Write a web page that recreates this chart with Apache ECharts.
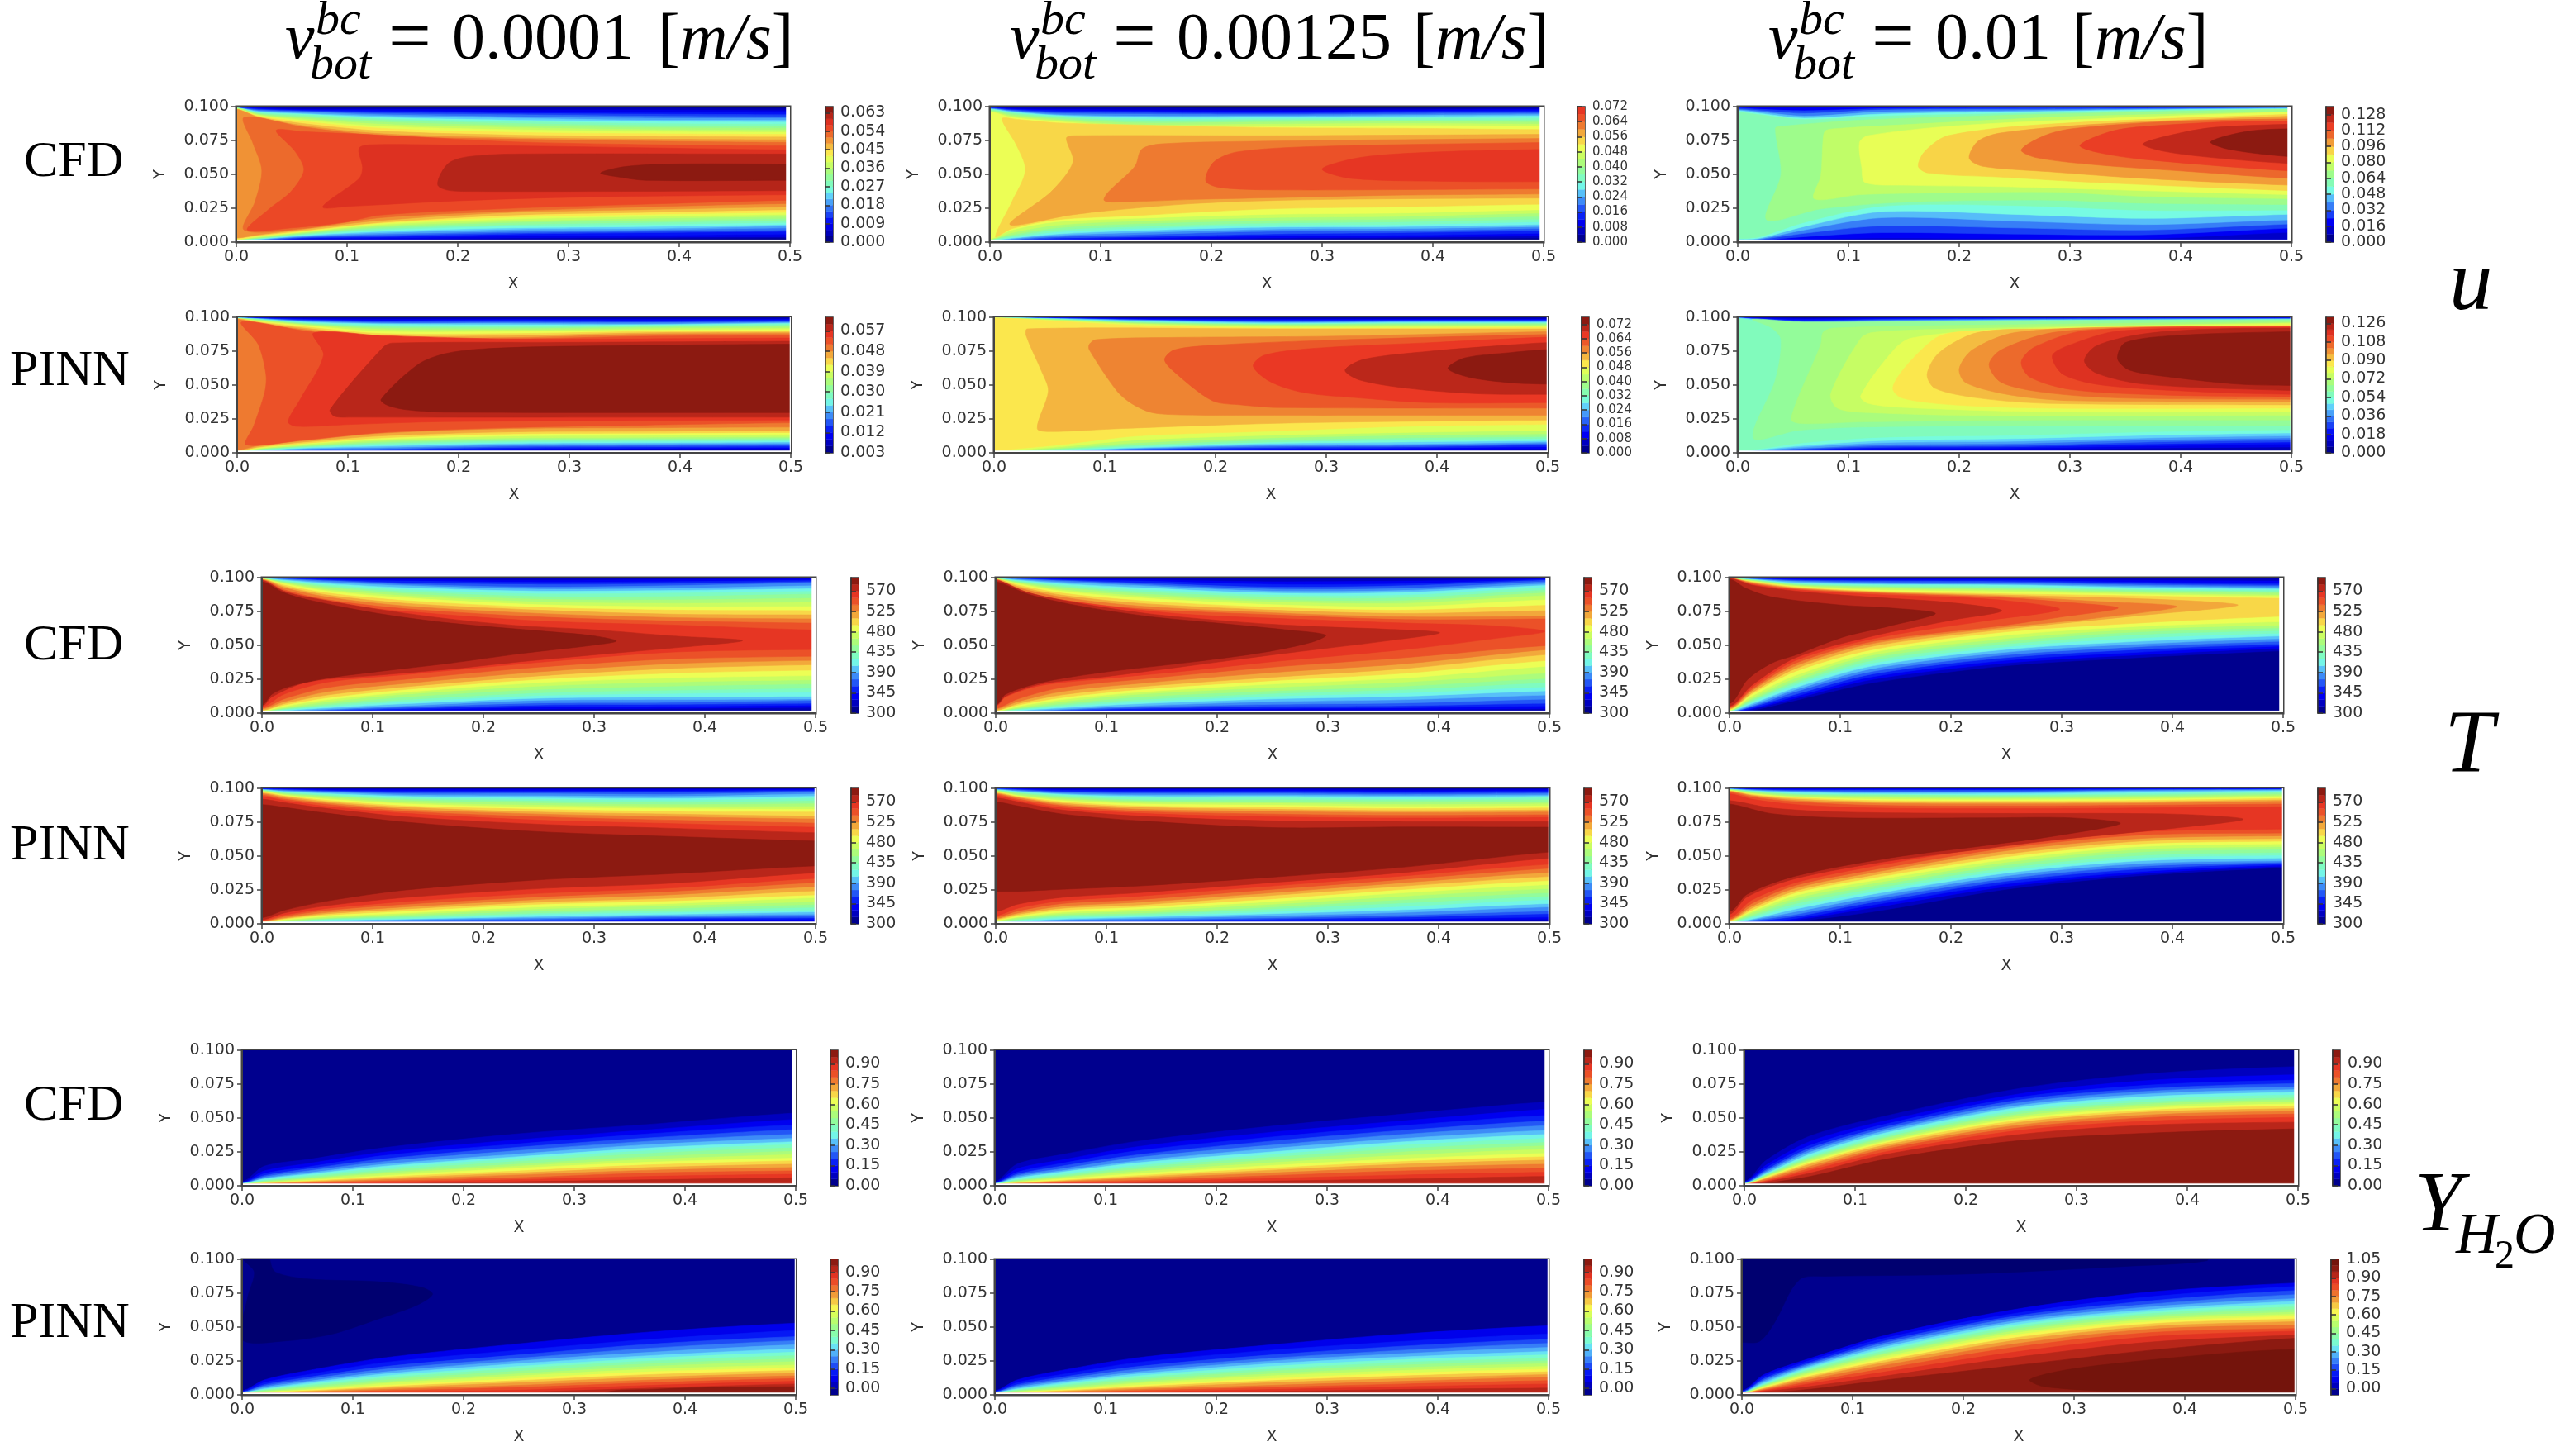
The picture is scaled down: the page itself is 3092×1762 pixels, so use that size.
<!DOCTYPE html>
<html><head><meta charset="utf-8"><style>html,body{margin:0;padding:0;background:#fff}#c{width:3092px;height:1762px}</style>
<script src="https://cdn.jsdelivr.net/npm/echarts@6/dist/echarts.min.js"></script></head><body><div id="c"></div><script>
// x stations (thousandths of the axis unit) at which the contour crossings were read
const S=[0,20,60,130,250,370,500];
// ---- u, CFD ----
const uCfd1Rows=[
[1,1,1,1,1,1,1,2,2,2,2,2,2,2,3,3,98,98,98,98,99,99,99,99,99,99,99,99,99.5,99.5,99.5,99.5],
[1,1,1,1,1.5,2,2,2.5,2.5,3,3,3.5,4,4.5,5,5.5,92,92.5,93,93.5,94,94.5,95,95.5,96,96.5,97,97.5,98,98.5,99,99.5],
[1.5,2,2.5,3,3.5,4,4.5,5,5.5,6,6.5,7,7.5,8,8.5,9.5,86,87.5,89,90,91,92,93,94,94.5,95,96,96.5,97,97.5,98,99],
[1,2,3,4,5,6,7,8,9,10,11,12,13,14,14.5,16,80,82,84,85.5,87,88.5,90,91,92,93,94,95,96,97,98,99],
[2,3,4.5,6,7,8,9.5,10.5,12,13,14.5,15.5,17,18.5,20,22,77,79,81,83,84.5,86,87.5,89,90,91.5,92.5,94,95,96,97.5,99],
[2.5,3.5,5,7,8,9,10,11.5,13,14.5,16,17.5,19,20.5,22,24,76,78,80,81.5,83,84.5,86,87.5,89,90,91.5,93,94.5,96,97.5,99],
[3,4,6,8,9,10.5,12,13,14.5,16,17.5,19,20.5,22,24,26,75.5,77.5,79.5,81,82.5,84,85.5,87,88.5,90,91.5,92.5,94,95.5,97,98.5]];
const uCfd1Inner=[
[17,[7,9,60,10,130,18,250,23,370,26,500,28.5,500,73.5,370,74.5,250,76,130,78.5,60,85,7,92,15,73,23,53,17,30]],
[18,[10,9,50,10.5,100,15,130,20,250,25,370,28,500,31,500,71,370,72,250,74,130,79,60,81.5,36,82.5,53,67,61,53,49,37,29,24]],
[19,[78,26,103,26.5,200,30.5,300,33,500,35,500,68,300,70.5,200,71.5,127,72,111,69.5,114,55,111,47]],
[20,[182,42,190,38.5,204,37.5,350,37.5,500,38,500,65,248,65,209,63,193,59,185,51]],
[21,[329,51,346,48,370,45.6,500,45.6,500,57.6,389,57.6,350,55.6]]];
const uCfd1Ticks=[0,.009,.018,.027,.036,.045,.054,.063];
const uCfd2Rows=[
[1,1,1,1,1,1,1.5,1.5,2,2,2,2.5,96,96.5,97,97.5,98,98,98.5,98.5,99,99,99.5,99.5],
[1,1,1,1.5,2,2.5,3,3.5,4.5,5.5,7,9,92,93,94,95,95.5,96,96.5,97,97.5,98,98.5,99.5],
[1,1.5,2,3,4,5,6,7.5,9,10.5,12.5,15,89,90,91,92,93,93.5,94,95,96,97,98,99],
[1,2,3,4,5.5,7,8.5,10,11.5,13.5,15.5,17.5,85,86.5,88,89.5,91,92,93,94.5,95.5,96.5,97.5,99],
[2,3,4.5,6,8,9.5,11,12.5,14,16,18,20.5,85,87,88.5,90,91,92,93,94,95,96,97,98.5],
[2.5,3.5,5,7,8.5,10,11.5,13,15,17,19,21.5,86,87.5,89,90,91.5,92.5,93.5,94.5,95.5,96.5,97.5,98.5],
[3,4.5,6.5,8.5,10,11.5,13,15,17,19,21.5,24,85.5,87,88.5,90,91.5,93,94,95,96,97,98,99]];
const uCfd2Inner=[
[13,[5,4,20,10,60,16.5,130,19.5,250,24.5,370,26,500,28,500,83,370,84,250,84.5,130,86.5,60,88,25,90.5,11,91,24,71.5,32,53,20,30]],
[14,[18,13,73,20,110,23.5,185,28.5,270,31,378,32,500,32.5,500,79.5,250,78.5,75,78.5,69,76.6,75,59,55,37]],
[15,[103,31,111,29.5,185,31.5,270,33,356,34.5,500,35.5,500,76.5,249,74.5,155,72.5,137,68.5,131,56,107,37]],
[16,[195,45,210,40,270,38.5,500,39.3,500,73.5,292,70.5,223,66.5,202,59]],
[17,[300,54,326,47,420,44.8,500,44.6,500,68.4,400,66.4,335,62.5]]];
const uCfd2Ticks=[0,.008,.016,.024,.032,.04,.048,.056,.064,.072];
const uCfd3Rows=[
[1,1,1.5,2,2,2.5,96,97,97.5,98,99,99.5],
[1,1.5,2,2.5,3,4,94,95,96,97,98,99],
[2,4,6.5,9,11.5,14.5,90.5,91.5,93,95,97,99],
[3,7,12,18,22.5,26.5,93,94.5,96,97.5,98.5,99.5],
[2.5,6,10.5,15.5,20.5,27,95,96,97,98,99,99.5],
[2.5,5.5,9,13,17.5,23.5,97,97.5,98,98.5,99,99.5],
[7.3,10.4,13.4,16.5,20.6,23.6,98,98.5,99,99,99.5,99.8]];
const uCfd3Inner=[
[8,[26,16.5,75,24.5,152,29.5,280,31,367,28.7,500,27.7,500,98,367,96,238,93.5,110,90,40,85.5,34,84,39,50]],
[9,[69,32,110,35,152,36,280,37,367,33.8,500,32,500,96,367,94,280,92,152,86.7,88,83.7,79,82,77,75,75,49]],
[10,[115,44,152,42,238,41,324,39,500,35,500,96,324,91,195,85.7,118,78.6,110,73.5,112,55]],
[11,[163,56,172,51,238,48,324,44,500,38,500,94.3,280,87,190,78.6,169,67]],
[12,[209,62,221,56,281,52,367,47,500,42,500,93,324,87,238,80.6,217,74.5]],
[13,[256,68,270,62.3,324,57,410,52,500,47,500,91,390,89,302,83.7,277,78.6]],
[14,[309,71.5,324,66.4,367,61,500,52.5,500,89,450,89,367,85.3,337,81.7]],
[15,[366,72.5,385,67,430,62.3,500,58,500,87,431,84.7,400,80.6]],
[16,[427,74,444,68.4,500,63,500,83.7,460,81.7]]];
const uCfd3Ticks=[0,.016,.032,.048,.064,.08,.096,.112,.128];
// ---- u, PINN ----
const uPinn1Rows=[
[1,1,1,1,1,1,1,1,1,1,1,1,1.5,1.5,2,98.5,99,99,99,99,99,99,99.5,99.5,99.5,99.5,99.5,99.5,99.5,99.5],
[1,1,1,1,1.5,1.5,2,2,2.5,3,3,3.5,4,4.5,5.5,95,96,96.5,97,97.5,98,98,98.5,98.5,99,99,99,99.5,99.5,99.5],
[1,1,1.5,2,2.5,3,3.5,4,4.5,5,5.5,6.5,7,8,9,91,92,93,94,94.5,95,95.5,96,96.5,97,97.5,98,98.5,99,99.5],
[1,1.5,2,2.5,3,4,5,6,7,8,9,10,11,12.5,14.5,85,86.5,88,89.5,91,92,93,94,95,95.5,96,97,97.5,98.5,99.5],
[1.5,2.5,3,4,5,6,7,8,9,10,11,12.5,14,15.5,18,85,86.5,88,89.5,90.5,91.5,92.5,93.5,94.5,95.5,96,97,98,98.5,99.5],
[2,3,3.5,4.5,5.5,6.5,7.5,8.5,9.5,10.5,11.5,13,14.5,16,18.5,87.5,88.5,89.5,90.5,91.5,92.5,93,94,94.5,95,96,96.5,97.5,98.5,99.5],
[2,3,4,5,6,7,8,9,10,11,12,13.5,15,16.5,19,88,89,90,91,92,93,94,95,95.5,96,96.5,97,98,98.5,99.5]];
const uPinn1Inner=[
[16,[8,6,60,9.5,130,15,250,18.7,370,20.5,500,22.2,500,86.4,370,86,250,84,130,84,60,90,4,96.5,19,80,26,58,25,45,15,20]],
[17,[46,23,54,19.5,103,21,187,23,500,24.2,500,84.7,250,84,130,86.5,69,88.4,78,72,57,39.5]],
[18,[84,32,88,27,103,26.3,500,26.3,500,82.3,300,81.5,140,81,132,78]],
[19,[130,39.5,136,35,153,31.8,187,30,500,29.7,500,80.2,295,78.6,220,76.6,187,73,163,65]]];
const uPinn1Ticks=[.003,.012,.021,.03,.039,.048,.057];
const uPinn2Rows=[
[1,1,1,1,1,1,1,1,1,1,1,1.5,99.5,99.5,99.5,99.5,99.5,99.5,99.5,99.5,99.5,99.8,99.8,99.8],
[1,1,1,1,1,1,1,1.5,1.5,2,2,3,99,99,99,99,99.5,99.5,99.5,99.5,99.5,99.5,99.8,99.8],
[1,1,1,1,1.5,1.5,2,2.5,3,3.5,4.5,6,97,97.5,98,98,98.5,98.5,99,99,99,99.5,99.5,99.8],
[1,1.5,2,2.5,3,3.5,4,5,6,7.5,9.5,12.5,94,95,95.5,96,96.5,97,97.5,98,98,98.5,99,99.5],
[1.5,2,3,4,5,6,7,8,9.5,11,13,16,92,93,94,94.5,95,95.5,96,96.5,97,98,98.5,99.5],
[1.5,2.5,3.5,4.5,5.5,6.5,8,9.5,11,13,15,19.5,92,93,94,95,95.5,96,96.5,97,97.5,98,98.5,99.5],
[2,3,4.5,6,7,8,9,10.5,12,14,16.5,21,92.5,93.5,94,95,95.5,96,96.5,97,97.5,98,98.5,99.5]];
const uPinn2Inner=[
[13,[39,18,51,15.7,116,18,266,22,500,24.2,500,91.4,250,91.5,30,91.5,29,86.4,43,60,49,45.6]],
[14,[86,76,111,45.6,124,36.5,141,30,159,28.3,200,27.7,500,27.7,500,89.4,300,86,150,85,92,83.5,86,80]],
[15,[154,69,161,61,197,38.5,223,35.4,257,33.4,500,33,500,87.3,310,83.3,200,79.5,163,76]],
[16,[234,64,249,52.7,279,44.6,330,40.5,394,37,500,37,500,85.3,394,81.3,287,77,244,72]],
[17,[317,61,330,53.8,373,47.7,437,43.6,500,43.2,500,81.3,459,79.2,394,75,334,69]],
[18,[410,62.3,429,55.8,467,51.7,500,50.7,500,76.2,467,74,425,70]]];
const uPinn2Ticks=[0,.008,.016,.024,.032,.04,.048,.056,.064,.072];
const uPinn3Rows=[
[1,1,1,1,1,1,1,1,1.5,99,99,99.5,99.5,99.5,99.5,99.5,99.8,99.8],
[1,1,1,1.5,1.5,2,2,2.5,3,97,97.5,98,98,98.5,99,99,99.5,99.8],
[1,1.5,2,2.5,3,3.5,4.5,5.5,7.5,95,95.5,96,96.5,97,97.5,98.5,99,99.5],
[1.5,2,3,4,5,6,7.5,9,11.5,96,96.5,97,97.5,98,98.5,99,99.4,99.8],
[1.5,2.5,3.5,4.5,5.5,7,8.5,10.5,13,97,97.5,98,98.3,98.6,99,99.2,99.5,99.8],
[2,3.5,5,6.5,8,9.5,11,13,15.5,97.5,98,98.3,98.5,99,99.2,99.4,99.6,99.8],
[2.5,4.3,6.5,8,9.4,11,12.6,14.7,17,98,98.3,98.6,98.8,99,99.2,99.4,99.6,99.8]];
const uPinn3Inner=[
[10,[14,11,54,16.5,110,19,250,20,500,20,500,98.2,250,97.5,60,96.5,13,98.5,30,92.5,39,83.7,34,54]],
[11,[48,25,58,21.6,110,22.8,280,24.2,500,24.2,500,96.8,195,94,86,92,77,88.8,75,80]],
[12,[84,43.6,90,33,118,29.7,238,27.3,500,27.7,500,96,195,91.4,122,88.8,111,84.3]],
[13,[111,42,118,36.5,152,33.4,280,30.3,500,30.3,500,95.5,238,91,157,84.7,141,76]],
[14,[140,48,148,40.5,195,35.4,280,33,500,33,500,94.5,238,90.5,195,88.8,178,84.3,152,64]],
[15,[171,58,178,47.7,217,40.5,280,36.5,500,35.4,500,93.5,280,91.4,217,88.8,182,74]],
[16,[200,62,206,51.7,247,42.6,302,38.5,500,37.5,500,93,367,93,251,88.8,212,76]],
[17,[227,65,238,52,277,44.6,345,40.5,500,39.5,500,93,367,92,285,88.8,238,76]],
[18,[256,67,264,55.8,302,46.6,388,42.6,500,41.5,500,93.5,315,90.3,268,78]],
[19,[284,71.5,294,57.8,332,49.7,431,44.6,500,43.2,500,92.5,345,90,298,79]],
[20,[313,68,324,58.8,367,50.7,500,46,500,92,431,91.4,367,87.8,324,79]],
[21,[343,69.5,354,61,392,55.8,452,50.7,500,49.7,500,89.4,400,86.8,350,81.3]]];
const uPinn3Ticks=[0,.018,.036,.054,.072,.09,.108,.126];
// ---- T ----
const tTicks=[300,345,390,435,480,525,570];
const tCfd1Rows=[
[1,1,1,1,1,1,1,1,1.5,1.5,1.5,1.5,2,2,3,3.5,4.5,98,98.5,98.5,99,99,99,99,99.2,99.2,99.4,99.4,99.5,99.5,99.6,99.6,99.7,99.8],
[1,1,1,1,1.5,1.5,2,2.5,3,3.5,4,5,6,7,8.5,10.5,14,89,91,92.5,93.5,94.5,95.5,96,96.5,97,97.5,98,98.5,99,99,99.5,99.5,99.7],
[1,1,1.5,2,2.5,3,4,5,6,7,8.5,10,11.5,13.5,16,19,23,81,83.5,85.5,87,88.5,90,91,92.5,93.5,94.5,95.5,96.5,97.5,98,98.5,99,99.5],
[1,1.5,2.5,3.5,4.5,5.5,7,8.5,10,12,14,15.5,17.5,19.5,22,25,28.5,75,77,79,81,83,85,86.5,88,89.5,91,92.5,94,95,96,97.5,98.5,99.5],
[1.5,3,4.5,6,7.5,9.5,11,13,15,17.5,20,22.5,25,27.5,30.5,34,37.5,68,71,73.5,76,78,80,82,84,86,88,90,91.5,93,95,96.5,98,99.5],
[2,3.5,5,6.5,8,10,12,14.5,17,20,23,26,29.5,33,36.5,40,45,65,68,70.5,73,76,78.5,81,83.5,86,88.5,90.5,92,94,95.5,97,98.5,99.5],
[2.6,4.3,5.9,7.3,9.4,10.4,12.4,15.5,18.5,21.6,24.6,27.7,31.8,35.8,39,42,47,61.3,66.4,69.5,72.5,75.6,78.6,81.7,84.7,87.8,89.8,91.8,94,96,97,98,99,99.6]];
const tCfd1Inner=[
[18,[0,5,9,12,41,23,105,28,170,32.5,234,38,300,43,370,48,434,53.5,370,57,300,61.5,234,64.4,170,69.4,105,76.6,41,85.7,20,90,0,98]],
[19,[0,6,9,14,24,19.5,58,25.7,105,30.7,170,36.9,234,44,298,50,320,53.2,298,57.2,256,60.3,170,66.4,105,73.5,41,83.7,20,88.8,0,97]]];
const tCfd2Rows=[
[1,1,1,1,1,1,1,1,1.5,1.5,1.5,1.5,2,2,3,3.5,98.5,98.5,99,99,99,99,99.2,99.2,99.4,99.4,99.5,99.5,99.6,99.6,99.7,99.8],
[1,1,1,1,1.5,1.5,2,2.5,3,3.5,4,5,6,7,8.5,10.5,91,92.5,93.5,94.5,95.5,96,96.5,97,97.5,98,98.5,99,99,99.5,99.5,99.7],
[1,1,1.5,2,2.5,3,4,5,6,7,8.5,10,11.5,13.5,16,19,83.5,85.5,87,88.5,90,91,92.5,93.5,94.5,95.5,96.5,97.5,98,98.5,99,99.5],
[1,1.5,2.5,3.5,4.5,5.5,7,8.5,10,12,14,15.5,17.5,19.5,22,25,77,79,81,83,85,86.5,88,89.5,91,92.5,94,95,96,97.5,98.5,99.5],
[1.5,2.5,3.5,5,6.5,8.5,10.5,12.5,14.5,16.5,19,21.5,24,26.5,30,34,72.5,74,76,78,80,82,83.5,85.5,87,88.5,90,91.5,93,95,97,99],
[1.5,2.5,4,5.5,7.5,10,12.5,15,17.5,20,23,26,29.5,33,36.5,41,69,71,73.5,76,78.5,81,83,85,87,89,90.5,92,94,95.5,97.5,99],
[2.2,3.3,5.3,7.3,10.4,13.4,16.5,19.5,22.6,25.7,29.7,34.8,39,43.4,47,50,69.5,71.5,75.6,79.6,83.7,86.8,88.8,90.8,92.9,94.3,95.5,97,98,98.6,99,99.6]];
const tCfd2Inner=[
[17,[0,5,9,12,41,20.5,105,26,170,31,250,38,370,47,450,55,496,60.3,450,64.4,370,66.4,250,70,170,73,105,78.5,41,86,20,91,0,98.5]],
[18,[0,5.5,9,12.5,41,21.5,100,27,180,35.5,250,43,300,48,350,53,401,59.3,350,62,300,63.5,250,65.5,200,68.5,136,73.5,72,81.5,29,89,0,98]],
[19,[0,6,9,14,41,22.6,93,29.7,179,37.9,243,45,286,52.5,298,57.6,264,61.3,200,66.4,136,71.5,72,79.6,29,87.8,0,97]]];
const tCfd3Rows=[
[1,1,1,1,1,1,1.5,1.5,1.5,2,2,2,2.5,99,99,99,99.2,99.2,99.4,99.4,99.6,99.6,99.8,99.8,99.8,99.9],
[2,3,3.5,4.5,5,6,7,8,9,10,11,12.5,14,97,97.3,97.6,98,98.2,98.4,98.6,98.8,99,99.2,99.4,99.6,99.8],
[9.5,11,12.5,14,16,17.5,19,21,22.5,24,26,28,31,93,93.5,94,94.5,95,95.5,96,97,97.5,98,98.5,99,99.6],
[22.5,25,27,29,31,33,35,37,39,41,43,45,47,90,91,92,93,93.5,94.5,95,95.5,96.5,97.5,98,98.8,99.5],
[35,37,39,41,43,45,47,49,51,53,55,57.5,60,88,89.5,90.5,91.5,92.5,93.5,94.5,95,96,97,98,98.8,99.5],
[41,43,45,47,49,51,53,55.5,58,60,62,64,66.5,86.5,87.5,88.5,89.5,90.5,91.5,92.5,93.5,94.5,95.5,96.5,98,99.5],
[46,48,49.5,51,53,55,57,59,61,63,65,67.5,71.5,84.7,86,87,88.5,89.5,90.5,91.5,92.5,93.5,94.5,96,97.5,99]];
const tCfd3Inner=[
[14,[0,3,20,15,60,33,130,49.5,250,62,370,72,459,79.6,400,83.5,250,87,130,89.5,60,92.5,20,96.5,0,99.8]],
[15,[0,3.5,20,16.5,60,35,130,51.5,250,63.5,330,70,404,78.6,330,82.5,250,86,130,89,60,92,20,96,0,99.7]],
[16,[0,4,20,17.5,60,37,130,53,250,65,300,71,351,77.6,300,82,250,85,130,88.5,60,91.5,20,95.5,0,99.6]],
[17,[0,4.5,20,19,60,39,130,55,230,68,298,76.6,250,83,200,85.5,130,87.5,60,91,20,95,0,99.5]],
[18,[0,5,20,20.5,60,41,130,57,200,68.5,246,75.6,200,81.5,130,85.5,60,90,20,94.5,0,99.5]],
[19,[0,7,16,24.6,38,36.9,60,43,102,56,145,64.4,186,73.5,145,77.6,102,79.6,38,85.7,15,92,0,99]]];
const tPinn1Rows=[
[1,1,1,1,1,1,1,1,1,1,1,1.5,1.5,1.5,2,2,2.5,3,4.5,88,92,94,95,96,96.5,97,97.5,98,98,98.5,98.5,99,99,99,99.3,99.5,99.7,99.8],
[1,1,1,1,1,1.5,1.5,1.5,2,2,2.5,3,3.5,4,4.5,5.5,6.5,8,10,86,89.5,91,92,93,94,94.5,95,95.5,96,96.5,97,97.5,98,98.5,99,99.2,99.5,99.8],
[1,1,1,1.5,1.5,2,2.5,3,3.5,4,4.5,5.5,6.5,7.5,8.5,10,11.5,13.5,17,81.5,85,86.5,88,89,90,91,92,93,94,94.5,95.5,96,97,97.5,98,98.5,99,99.7],
[1,1,1.5,2,2.5,3,3.5,4,5,6,7,8,9.5,11,12.5,14.5,16.5,19.5,25,75,79,81.5,83,84.5,86,87,88.5,89.5,91,92,93,94,95,96,97,98,99,99.6],
[1,1.5,2,2.5,3.5,4.5,5.5,7,8,9.5,11,12.5,14.5,16,18,20,22.5,26,32.5,68,73.5,76.5,79,81,82.5,84.5,86,87.5,89,90.5,92,93,94.5,96,97,98,99,99.6],
[1.5,2,3,4,5,6,7,8.5,10,11.5,13.5,15,17,19,21.5,24,26.5,30,37,64.5,70.5,74,76.5,79,81,83,85,86.5,88,89.5,91,92.5,94,95.5,97,98,99,99.6],
[1.6,2.4,3.5,4.5,5.7,7.1,8.8,10.2,12.2,14.3,16.3,19.3,21.4,24.4,27.5,30.5,33.6,37.7,42.8,61.1,67.2,71.3,74.3,77.4,79.4,82.5,84.5,86.6,88.6,90.6,92.7,94.1,95.7,97.1,98,98.6,99.2,99.6]];
const tPinn2Rows=[
[1,1,1,1,1,1,1.5,1.5,1.5,2,2,2.5,3,3.5,4,5,6,9,24,90,93,94.5,95.5,96,96.5,97,97.5,98,98,98.5,98.5,99,99,99.3,99.5,99.7,99.8,99.9],
[1,1,1,1.5,1.5,2,2,2.5,3,3.5,4.5,5,6,7,8,9.5,11.5,14.5,24,87,90,91,92,93,93.5,94,94.5,95,96,96.5,97,97.5,98,98.5,99,99.3,99.6,99.8],
[1,1,1.5,2,2.5,3,3.5,4.5,5.5,6.5,7.5,8.5,10,11.5,13,15,17,19.5,25.5,81,84,85.5,87,88,89,90,91,92,93,94,95,95.5,96,97,97.5,98.5,99,99.7],
[1,1.5,2,2.5,3,4,5,6,7,8,9.5,11,12.5,14,16,18,20.5,23,28,76,79.5,81.5,83,84.5,86,87,88.5,89.5,90.5,91.5,93,94,95,96,97,98,99,99.6],
[1.5,2,2.5,3.5,4.5,6,7.5,9,11,12.5,14.5,16.5,18.5,21,23,25.5,28,30.5,34.5,71,76,79,81,83,84.5,86,87.5,89,90,91.5,93,94,95,96,97,98,99,99.6],
[1.5,2.5,3.5,5,6.5,8.5,10.5,13,15.5,18,20.5,23,25.5,28,30.5,33,35.5,38,42,71.5,75.5,78,80,82,83.5,85,86.5,88,89.5,91,92,93.5,94.5,95.5,96.5,97.5,98.5,99.5],
[2,3.5,5,7.5,9.5,12.5,15,18,20.5,23,26,29,32,35,38,41,44,48.5,53,71.3,75.5,78.5,80.5,82.5,84,85.5,87,88.5,90,91.5,93,94,95,96,97,98,99,99.6]];
const tPinn3Rows=[
[1,1,1,1,1,1,1,1,1.5,1.5,1.5,2,2,2.5,3,3.5,4.5,96,97,97.5,98,98,98.5,98.5,99,99,99,99.3,99.5,99.5,99.6,99.7,99.8,99.9],
[1,1.5,1.5,2,2.5,3,3.5,4.5,5.5,6.5,8,9,10,11.5,13,15,17.5,92,93.5,94.5,95,95.5,96,96.5,97,97.5,98,98,98.5,99,99,99.3,99.5,99.8],
[2,3,4,5.5,7,9,11,13,15,17,19,21,23,24.5,26.5,28.5,30.5,88,90,91,92,93,93.5,94,95,95.5,96,97,97.5,98,98.5,99,99.5,99.8],
[9,12,14,16,18,20,22,24,26,28,30,32,34,36,38,40,42.5,85.5,87.5,89,90,91,92,93,94,95,95.5,96,97,97.5,98.5,99,99.5,99.8],
[25.5,27.5,29.5,31.5,33.5,35.5,37.5,39.5,41.5,43.5,45.5,47.5,49.5,51.5,54,56,58.5,85,87,88.5,89.5,90.5,91.5,92.5,93.5,94.5,95,96,97,97.5,98.5,99,99.5,99.8],
[35.5,37,38.5,40.5,42.5,44.5,46.5,48.5,50.5,53,55,57,59,61,63,65.5,68,85.5,87.5,89,90,91,92,93,94,95,96,97,98,98.5,99,99.4,99.6,99.8],
[41.5,42.6,43.6,44.6,45.6,46.6,48.7,50.7,52.7,55,57,59,61,63,65,67,70,86.4,88.4,90.4,91.4,92.5,93.5,94.5,95.5,96.5,97.3,98,98.6,99,99.2,99.4,99.6,99.8]];
const tPinn3Inner=[
[18,[0,7,16,20,60,33.5,145,46.5,231,55.5,295,62,400,70.5,464,77.2,400,81,231,81.5,102,82.5,38,85.5,0,91]],
[19,[0,9,16,22,60,35.4,145,48.7,231,57.8,295,65,353,74.1,308,78.2,231,78.2,102,78.2,38,81.3,0,88.4]]];
// ---- Y_H2O (rows list crossings from the highest level upward) ----
const yTicks=[0,.15,.3,.45,.6,.75,.9];
const yTicksB=[0,.15,.3,.45,.6,.75,.9,1.05];
const yCfd1Rows=[
[1,1,1,1,1,1,1,1,1,1,1.5,1.5,1.5,1.5,2,2,2.5,3],
[1,1,1,1.5,1.5,2,2,2.5,3,3.5,4,5,5.5,6.5,7.5,9,11,14.5],
[1,1.5,2,2.5,3,3.5,4,5,5.5,6.5,7.5,8.5,9.5,11,12.5,14,16.5,19.5],
[1.5,2.5,3.5,4.5,5.5,6.5,7.5,9,10,11.5,13,14.5,16,18,20,22.5,25,28.3],
[3,4.5,6,8,9.5,11,13,14.5,16,18,20,21.5,23.5,26,28.5,31,34,38.4],
[4.5,7,9.5,11.5,13.5,15.5,17.5,19.5,21.5,24,26,28,30.5,33,35.5,38.5,41.5,45.5],
[5.9,8.5,11,13.5,16,18.5,20.5,23,25.5,28,30.5,32.5,35,38,41.5,45,49,53.7]];
const yCfd2Rows=[
[1,1,1,1,1,1,1,1,1,1,1.5,1.5,1.5,1.5,2,2,2.5,3],
[1,1,1,1.5,2,2,2.5,3,3.5,4,4.5,5.5,6.5,7.5,8.5,10,12.5,16],
[1,2,2.5,3,3.5,4,5,6,6.5,7.5,8.5,10,11,12.5,14.5,16.5,19,23],
[2,3,4,5.5,6.5,7.5,9,10.5,12,13.5,15,17,18.5,21,23,26,29,33],
[3.5,5.5,7.5,9.5,11.5,13,15,17,19,21,23,25,27.5,30,33,36,39.5,44],
[5,8,11,13.5,16,18,20,22.5,25,27.5,30,32.5,35,38,41,44.5,48,53],
[7,10,13,16,19,21.5,24,27,29.5,32,35,38,41,44.5,48,52,56.5,62]];
const yCfd3Rows=[
[1,1,1,1,1,1,1,1,1,1,1.5,1.5,1.5,1.5,2,2,2.5,3,3],
[2,3,3.5,4,5,5.5,6,6.5,7,7.5,8,8.5,9,10,11,12,13.5,15.5,19],
[7,9.5,11.5,13,14.5,16,17,18,19,20,21,22,23.5,25,26.5,28,30,33,37],
[20,23.5,25.5,27.5,29,30.5,32,33,34,35.5,36.5,38,39.5,41,42.5,44,46,48.5,52],
[33.5,38,41,43,45,47,48.5,50,51.5,53,54.5,56,58,59.5,61.5,63.5,65.5,68,72],
[39,45,48,50.5,52.5,54.5,56,57.5,59,60.5,62,64,66,68,70,72,74.5,78,83],
[42,47,50.5,53,55,57,59,60.5,62,63.5,65,67,69,71,73,75.5,78,82,88]];
const yPinn1Rows=[
[1,1,1,1,1,1,1,1,1,1,1.5,1.5,1.5,1.5,2,2,2.5,3],
[1,1,1,1,1.5,1.5,2,2,2.5,3,3.5,4,4.5,5.5,6.5,7.5,9,11],
[1,1,1.5,2,2.5,3,3.5,4,5,6,7,8,9,10,11.5,13,15,18],
[1,2,3,4,5,6,7,8.5,9.5,11,12.5,14,15.5,17,19,21,24,27.5],
[2,3.5,5.5,7,9,10.5,12,14,15.5,17.5,19.5,21,23,25,27,29.5,33,37.7],
[5,7,9,11,13,15,17,19,21,23,25,27,29,31.5,34.5,37.5,41,46.5],
[8,10,12,14,16,18,20,22,24.5,26.5,29,31.5,34,37,40,43,47.5,52.9]];
const yPinn1Inner=[
[-1,[1,105,1,100,11,90.6,5,72,0,40.7,38,39.7,81,44.8,123,56,158,66.2,172,74.3,162,79.4,123,83.5,60,85.5,30,90.6,25,100,25,105]],
[20,[329,2,370,4,420,5.5,500,6,500,-5,329,-5]]];
const yPinn2Rows=[
[1,1,1,1,1,1,1,1,1,1,1.5,1.5,1.5,1.5,2,2,2.5,3],
[1,1,1,1,1.5,1.5,2,2,2.5,3,3.5,4,4.5,5.5,6.5,7.5,9,11],
[1,1,1.5,2,2.5,3,3.5,4,5,6,7,8,9,10,11.5,13,15,18],
[1.5,2,3,4,5,6,7,8.5,9.5,11,12.5,14,15.5,17,19,21,24,27.5],
[2.5,4,5.5,7,9,10.5,12,14,15.5,17.5,19,21,23,25,27,29.5,33,37],
[4,6,8,10,12,14,16,18,20,22,24,26,28,30.5,33,36,39.5,45],
[5,8,10.5,13,15,17,19,21,23,25,27,29.5,32,35,38,41,45,51]];
const yPinn3Rows=[
[1,1,1,1,1,1,1,1,1,1,1.5,1.5,1.5,1.5,1.5,2,2,2.5,3],
[1.5,2.5,3,3.5,4,4.5,5,5.5,6,6.5,7,7.5,8,9,10,11,12,13.5,15],
[4,6,8,9.5,11,12.5,13.5,14.5,15.5,16.5,17.5,18.5,19.5,20.5,21.5,22.5,23.5,25,26.5],
[11,14,17,19.5,22,24,25.5,27,28.5,30,31,32.5,34,35.5,37,38.5,40,42,44],
[22,28,32,35.5,38,40.5,42.5,44.5,46,47.5,49,50.5,52,53.5,55,57,58.5,60.5,63.5],
[33,39,43,46,48.5,50.5,52.5,54,55.5,57,58.5,60,61.5,63,65,67,69.5,72.5,76],
[41.8,44,47,49,51.5,54,56,58,59.5,61,63,65,67,69,71,74,77,80,82.5]];
const yPinn3Inner=[
[-1,[0,38.7,16,39.5,30,54,45,78,55,86.5,75,87.5,200,89,350,95,420,99,420,105,0,105]],
[21,[260,11.2,273,6,352,2,500,0,500,33.6,450,31.6,352,24.4,292,18.3]]];
const columnValues=['0.0001','0.00125','0.01'];
const rowNames=['CFD','PINN','CFD','PINN','CFD','PINN'];

// kind, first level, base colour, rows, inner regions, colour steps, cbar min, cbar step, cbar bands, ticks, decimals
const P=[
['two',1,0,uCfd1Rows,uCfd1Inner,22,0,.003,22,uCfd1Ticks,3],
['two',1,0,uCfd2Rows,uCfd2Inner,20,0,.004,18,uCfd2Ticks,3],
['two',2,1,uCfd3Rows,uCfd3Inner,17,0,.008,17,uCfd3Ticks,3],
['two',1,0,uPinn1Rows,uPinn1Inner,20,.003,.003,20,uPinn1Ticks,3],
['two',1,0,uPinn2Rows,uPinn2Inner,19,0,.004,19,uPinn2Ticks,3],
['two',1,0,uPinn3Rows,uPinn3Inner,22,0,.006,22,uPinn3Ticks,3],
['two',1,0,tCfd1Rows,tCfd1Inner,20,300,15,20,tTicks,0],
['two',1,0,tCfd2Rows,tCfd2Inner,20,300,15,20,tTicks,0],
['two',1,0,tCfd3Rows,tCfd3Inner,20,300,15,20,tTicks,0],
['two',1,0,tPinn1Rows,[],20,300,15,20,tTicks,0],
['two',1,0,tPinn2Rows,[],20,300,15,20,tTicks,0],
['two',1,0,tPinn3Rows,tPinn3Inner,20,300,15,20,tTicks,0],
['one',1,0,yCfd1Rows,[],20,0,.05,20,yTicks,2],
['one',1,0,yCfd2Rows,[],20,0,.05,20,yTicks,2],
['one',1,0,yCfd3Rows,[],20,0,.05,20,yTicks,2],
['one',2,0,yPinn1Rows,yPinn1Inner,21,-.05,.05,21,yTicks,2],
['one',2,0,yPinn2Rows,[],21,-.05,.05,21,yTicks,2],
['one',2,0,yPinn3Rows,yPinn3Inner,21,-.05,.05,22,yTicksB,2]];

// layout
const tops=[129,384,699,954,1271,1524];
const lefts=[[286,1198,2103],[287,1203,2103],[317,1205,2093],[317,1205,2093],[293,1204,2111],[293,1204,2108]];
const cbLefts=[[999,1909,2815],[999,1914,2815],[1030,1917,2805],[1030,1917,2805],[1005,1917,2823],[1005,1917,2821]];
const PW=670,PH=164,CW=9;
const FONT='DejaVu Sans',SERIF='Liberation Serif',INK='#333';

function itp(st,t){for(let i=1;i<st.length;i++){if(t<=st[i][0]){const a=st[i-1],b=st[i];return a[1]+(b[1]-a[1])*(t-a[0])/(b[0]-a[0]);}}return st[st.length-1][1];}
const RS=[[0,0],[.35,0],[.66,1],[.89,1],[1,.6]],GS=[[0,0],[.125,0],[.375,1],[.64,1],[.91,0],[1,0]],BS=[[0,.58],[.11,1],[.34,1],[.65,0],[1,0]];
const lin=c=>c<=.04045?c/12.92:Math.pow((c+.055)/1.055,2.4),gam=c=>c<=.0031308?c*12.92:1.055*Math.pow(c,1/2.4)-.055;
function jet(t){
  let r,g,b;
  if(t<0){r=0;g=0;b=.46;}else if(t>1){r=.5;g=0;b=0;}else{r=itp(RS,t);g=itp(GS,t);b=itp(BS,t);}
  const R=lin(r),G=lin(g),B=lin(b);
  const o=[.8225*R+.1774*G,.0332*R+.9669*G,.0171*R+.0724*G+.9108*B].map(v=>Math.round(255*gam(Math.min(1,v))));
  return `rgb(${o[0]},${o[1]},${o[2]})`;
}
// points lying on the left/right edge of the field get a twin outside the clip rectangle, so rounding never shows at the edge
function extend(pts){
  const out=[],L=pts.length,side=p=>p[0]>=500?1:(p[0]<=0?-1:0);
  pts.forEach((p,i)=>{
    const s=side(p),nx=pts[(i+1)%L],pv=pts[(i-1+L)%L];
    if(!s){out.push(p);return;}
    const far=[s>0?545:-45,p[1]];
    if(side(nx)===s)out.push(p,far);
    else if(side(pv)===s)out.push(far,p);
    else out.push(p);
  });
  return out;
}
function regionsOf(p,isPinn){
  const [kind,first,base,rows,inner,n]=p,out=[];
  const col=c=>jet(c/(n-1));
  out.push({pts:[[-40,-10],[540,-10],[540,110],[-40,110]],fill:col(base),smooth:0});
  if(kind==='two'){
    const m=rows[0].length/2;
    for(let k=0;k<m;k++){
      const a=[],b=[];
      rows.forEach((r,j)=>{a.push([S[j],r[k]]);b.unshift([S[j],r[2*m-1-k]]);});
      out.push({pts:extend(a.concat(b)),fill:col(first+k),smooth:.3});
    }
  }else{
    const m=rows[0].length;
    for(let k=m-1;k>=0;k--){
      const a=rows.map((r,j)=>[S[j],r[k]]);
      out.push({pts:extend([[0,-10],...a,[500,-10]]),fill:col(first+(m-1-k)),smooth:.3});
    }
  }
  inner.forEach(([c,f])=>{const pts=[];for(let i=0;i<f.length;i+=2)pts.push([f[i],f[i+1]]);out.push({pts:extend(pts),fill:col(c),smooth:.3});});
  const xEnd=isPinn?499.3:496.7;
  out.push({pts:[[xEnd,-10],[540,-10],[540,110],[xEnd,110]],fill:'#fff',smooth:0});
  out.push({pts:[[-40,-10],[540,-10],[540,1.6],[-40,1.6]],fill:'#fff',smooth:0});
  return out;
}

const grid=[],xAxis=[],yAxis=[],series=[];
P.forEach((p,idx)=>{
  const row=Math.floor(idx/3),c=idx%3,top=tops[row],left=lefts[row][c],cb=cbLefts[row][c];
  const [,,,,,n,vmin,step,nb,ticks,dec]=p;
  const gi=grid.length;
  grid.push({left,top,width:PW,height:PH,show:true,borderColor:'#444',borderWidth:3,backgroundColor:'#fff'});
  xAxis.push({gridIndex:gi,type:'value',min:0,max:.5,interval:.1,splitLine:{show:false},z:10,name:'X',nameLocation:'middle',nameGap:42,
    nameTextStyle:{fontFamily:FONT,fontSize:19,color:INK},
    axisLine:{lineStyle:{color:'#444',width:2}},axisTick:{length:6,lineStyle:{color:'#444',width:1.5}},
    axisLabel:{fontFamily:FONT,fontSize:19,color:INK,margin:9,formatter:v=>v.toFixed(1)}});
  yAxis.push({gridIndex:gi,type:'value',min:0,max:.1,interval:.025,splitLine:{show:false},z:10,name:'Y',nameLocation:'middle',nameGap:82,
    nameTextStyle:{fontFamily:FONT,fontSize:19,color:INK},
    axisLine:{lineStyle:{color:'#444',width:2}},axisTick:{length:6,lineStyle:{color:'#444',width:1.5}},
    axisLabel:{fontFamily:FONT,fontSize:19,color:INK,margin:9,formatter:v=>v.toFixed(3)}});
  const regs=regionsOf(p,row%2===1);
  series.push({type:'custom',xAxisIndex:gi,yAxisIndex:gi,clip:true,silent:true,animation:false,z:2,
    data:regs.map((r,i)=>[.25,.05,i]),
    renderItem:(params,api)=>{const r=regs[params.dataIndex];
      return {type:'polygon',shape:{points:r.pts.map(q=>api.coord([q[0]/1000,q[1]/1000])),smooth:r.smooth},style:{fill:r.fill,stroke:r.fill,lineWidth:.6}};}});
  const ci=grid.length,vmax=vmin+step*nb,bands=[];
  for(let i=0;i<nb;i++)bands.push(i);
  grid.push({left:cb,top,width:CW,height:PH,show:true,borderColor:'#333',borderWidth:1.5});
  xAxis.push({gridIndex:ci,type:'value',min:0,max:1,show:false});
  yAxis.push({gridIndex:ci,type:'value',position:'right',min:vmin,max:vmax,splitLine:{show:false},z:10,
    axisLine:{show:true,lineStyle:{color:'#333',width:1.5}},
    axisTick:{show:true,length:6,customValues:ticks,lineStyle:{color:'#333',width:1.5}},
    axisLabel:{fontFamily:FONT,fontSize:ticks.length>=10?15:19,color:INK,margin:9,customValues:ticks,showMinLabel:true,showMaxLabel:true,hideOverlap:false,formatter:v=>Number(v).toFixed(dec)}});
  series.push({type:'custom',xAxisIndex:ci,yAxisIndex:ci,clip:true,silent:true,animation:false,z:2,
    data:bands.map(i=>[.5,vmin+step*i,i]),
    renderItem:(params,api)=>{const i=params.dataIndex,a=api.coord([0,vmin+step*i]),b=api.coord([1,vmin+step*(i+1)]),col=jet(i/(n-1));
      return {type:'rect',shape:{x:a[0],y:b[1],width:b[0]-a[0],height:a[1]-b[1]},style:{fill:col,stroke:col,lineWidth:.4}};}});
});

const graphic=[];
const T=(text,x,y,size,italic,extra)=>graphic.push({type:'text',x,y,silent:true,z:20,style:Object.assign({text,fontFamily:SERIF,fontSize:size,fontStyle:italic?'italic':'normal',fill:'#000',verticalAlign:'middle',align:'left'},extra||{})});
const titleX=[345,1222,2140],unitOffset=[451,488,368];
titleX.forEach((x0,i)=>{
  T('v',x0,50,80,true);
  T('bc',x0+37,26,58,true);
  T('bot',x0+30,80,58,true);
  T('=',x0+125,50,92,false);
  T(columnValues[i],x0+202,50,80,false);
  graphic.push({type:'text',x:x0+unitOffset[i],y:50,silent:true,z:20,style:{text:'{a|[}{b|m/s}{a|]}',verticalAlign:'middle',align:'left',fill:'#000',
    rich:{a:{fontFamily:SERIF,fontSize:80,fill:'#000'},b:{fontFamily:SERIF,fontSize:80,fontStyle:'italic',fill:'#000'}}}});
});
[197,450,782,1024,1339,1602].forEach((y,i)=>{T(rowNames[i],rowNames[i]==='CFD'?29:12,y,62,false);});
T('u',2964,346,105,true);
T('T',2958,905,108,true);
T('Y',2922,1462,104,true);
T('H',2972,1498,70,true);
T('2',3019,1521,48,false);
T('O',3042,1498,70,true);

const chart=echarts.init(document.getElementById('c'),null,{renderer:'canvas'});
chart.setOption({animation:false,backgroundColor:'#fff',grid,xAxis,yAxis,series,graphic});
</script></body></html>
